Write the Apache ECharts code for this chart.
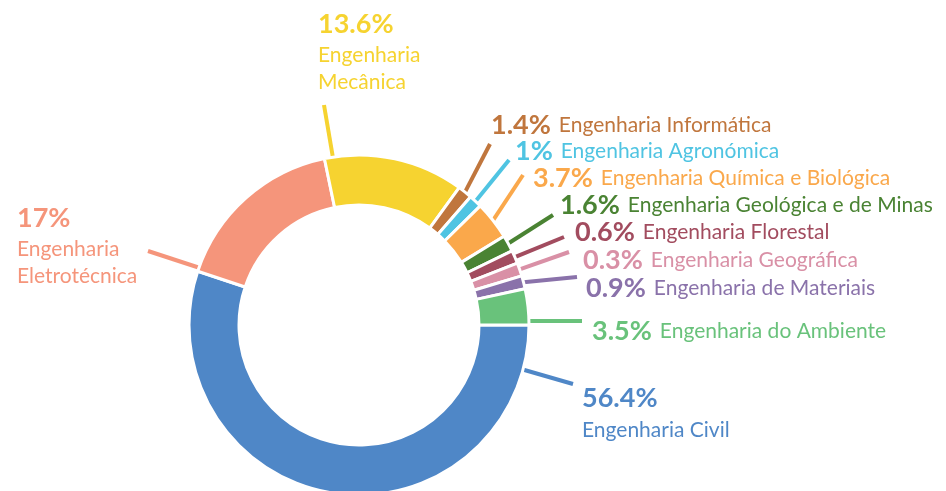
<!DOCTYPE html>
<html>
<head>
<meta charset="utf-8">
<script src="https://cdn.jsdelivr.net/npm/echarts@6/dist/echarts.min.js"></script>
<style>
html, body { margin: 0; padding: 0; background: #fff; }
#chart { width: 946px; height: 491px; }
</style>
</head>
<body>
<div id="chart"></div>
<script>
// cursos e percentagens, no sentido dos ponteiros a partir das 3h
const names = [
  'Engenharia Civil',
  'Engenharia Eletrotécnica',
  'Engenharia Mecânica',
  'Engenharia Informática',
  'Engenharia Agronómica',
  'Engenharia Química e Biológica',
  'Engenharia Geológica e de Minas',
  'Engenharia Florestal',
  'Engenharia Geográfica',
  'Engenharia de Materiais',
  'Engenharia do Ambiente'
];
const values = [56.4, 17, 13.6, 1.4, 1, 3.7, 1.6, 0.6, 0.3, 0.9, 3.5];
const colors = ['#4f87c7', '#f5957b', '#f6d330', '#c0763d', '#4fc4e2', '#faa84b',
  '#4a8333', '#a24c5f', '#d990a6', '#8a72aa', '#69c27b'];

// layout das etiquetas: x esquerdo, y centro, e tipo (0 = uma linha, 1 = % por cima, 2 = nome partido)
const labelPos = [
  [582, 412, 1], [17, 245, 2], [318, 51, 2], [491, 125, 0], [515, 151, 0], [533, 178, 0],
  [560, 205, 0], [575, 232, 0], [583, 260, 0], [586, 288, 0], [592, 331, 0]
];
// linhas de chamada: inicio (null = meio da fatia) e fim
const guideStart = [[521, 369], [200, 268], [333, 158], null, null, null, null, null, null, null, [527, 321]];
const guideEnd = [[573, 384], [148, 251], [324, 105], [490, 144], [509, 160], [523, 175],
  [553, 215], [564, 237], [569, 252], [577, 277], [582, 321]];

const chart = echarts.init(document.getElementById('chart'));

function fmt(i) {
  const v = values[i] + '%';
  const kind = labelPos[i][2];
  if (kind === 2) return '{p|' + v + '}\n{n|' + names[i].replace(' ', '}\n{n|') + '}';
  if (kind === 1) return '{p|' + v + '}\n{n|' + names[i] + '}';
  return '{p|' + v + '}{n|' + names[i] + '}';
}

const data = values.map((v, i) => ({
  name: names[i],
  value: v,
  itemStyle: { color: colors[i] },
  label: {
    formatter: fmt(i),
    rich: {
      p: {
        color: colors[i], fontSize: 27, fontWeight: 'bold', fontFamily: 'Lato',
        lineHeight: 36, padding: labelPos[i][2] ? 0 : [0, 8, 0, 0]
      },
      n: { color: colors[i], fontSize: 21, fontFamily: 'Lato', lineHeight: 27 }
    }
  }
}));

chart.setOption({
  animation: false,
  series: [{
    type: 'pie',
    center: [359, 325],
    radius: [120, 170],
    startAngle: 0,
    clockwise: true,
    minAngle: 4.5,
    itemStyle: { borderColor: '#fff', borderWidth: 3 },
    label: { show: true, position: 'outside', align: 'left' },
    labelLine: { show: true, length: 0, length2: 0, lineStyle: { width: 4 } },
    labelLayout: function (p) {
      const i = p.dataIndex;
      const pos = labelPos[i];
      let start = guideStart[i];
      if (!start && p.labelLinePoints) start = p.labelLinePoints[0];
      return {
        x: pos[0], y: pos[1], align: 'left', verticalAlign: 'middle',
        labelLinePoints: [start, guideEnd[i]]
      };
    },
    data: data
  }]
});
</script>
</body>
</html>
